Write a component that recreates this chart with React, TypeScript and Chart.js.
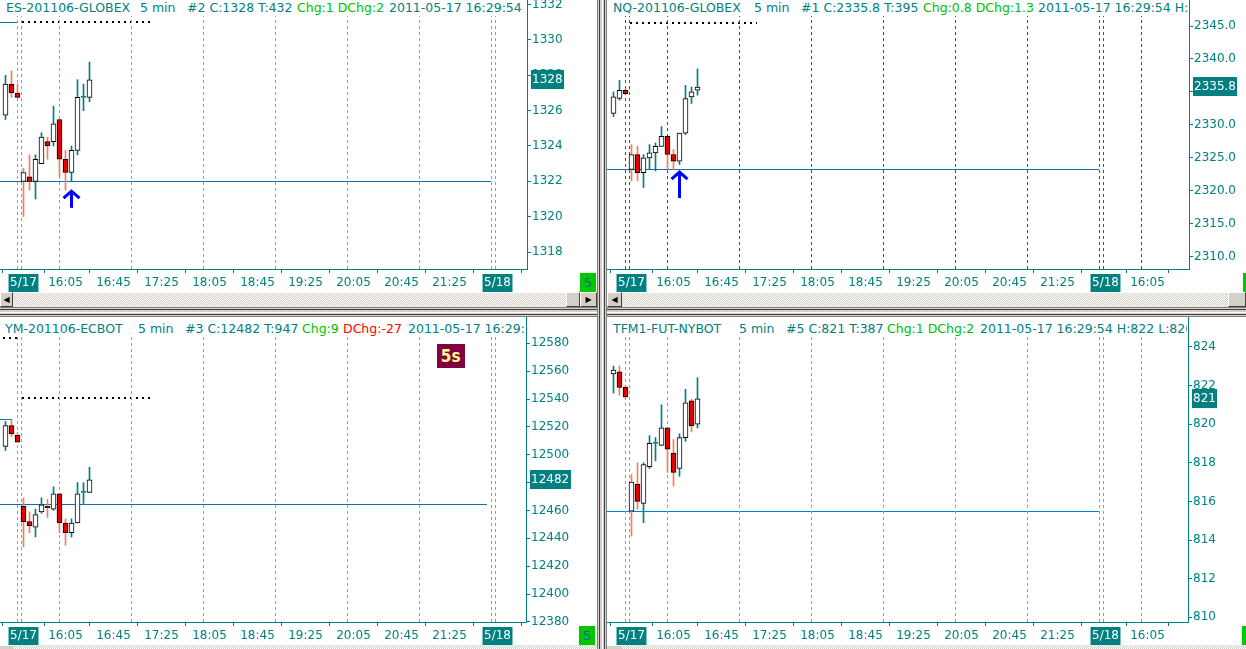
import React, { useEffect, useRef } from 'react';
import { Chart, registerables } from 'chart.js';
Chart.register(...registerables);

// ---------- shared axis data ----------
const barIndex = [-3, -2, -1, 0, 1, 2, 3, 4, 5, 6, 7, 8, 9, 10, 11];
const xTickValues = [0, 7, 15, 23, 31, 39, 47, 55, 63, 71, 79, 86];
const xTickLabels = ['5/17', '16:05', '16:45', '17:25', '18:05', '18:45', '19:25', '20:05', '20:45', '21:25', '5/18', '16:05'];
const dateTickLabels = ['5/17', '5/18'];
const sessionLines = [-1, -0.33, 6, 18, 30, 42, 54, 66, 78, 78.67, 85];

// ---------- ES ----------
const esOpen = [1325.75, 1327.5, 1327.0, 1322.0, 1322.25, 1322.0, 1323.0, 1324.25, 1324.25, 1325.5, 1323.25, 1322.5, 1323.75, 1326.75, 1326.75];
const esHigh = [1328.0, 1328.25, 1327.5, 1322.75, 1323.5, 1323.5, 1324.75, 1324.5, 1326.25, 1325.5, 1323.75, 1324.0, 1327.75, 1327.5, 1328.75];
const esLow = [1325.5, 1326.75, 1326.75, 1320.0, 1321.5, 1321.0, 1323.0, 1323.25, 1324.0, 1322.25, 1321.5, 1322.0, 1323.5, 1326.0, 1326.5];
const esClose = [1327.5, 1327.0, 1326.75, 1322.5, 1322.0, 1323.25, 1324.5, 1324.0, 1325.25, 1323.25, 1322.5, 1323.75, 1326.75, 1326.75, 1327.75];
const esTicks = [1318, 1320, 1322, 1324, 1326, 1328, 1330, 1332];
const esLevel = 1322;
const esPrevLevel = 1331;
const esArrow = [8, 1321.5, 1320.5];

// ---------- NQ ----------
const nqOpen = [2331.75, 2334.0, 2335.25, 2323.25, 2325.5, 2322.75, 2325.0, 2325.75, 2326.75, 2328.25, 2325.5, 2324.5, 2328.75, 2334.25, 2335.25];
const nqHigh = [2335.0, 2336.75, 2335.5, 2327.0, 2326.75, 2325.5, 2327.0, 2327.25, 2329.75, 2328.25, 2326.25, 2328.75, 2336.0, 2335.75, 2338.5];
const nqLow = [2331.25, 2333.75, 2334.75, 2321.5, 2321.5, 2320.5, 2323.25, 2323.0, 2326.75, 2323.25, 2323.25, 2324.0, 2328.5, 2333.25, 2334.5];
const nqClose = [2334.25, 2335.25, 2334.75, 2325.5, 2322.75, 2325.0, 2325.75, 2326.75, 2328.25, 2325.5, 2324.5, 2328.75, 2334.0, 2335.0, 2335.75];
const nqTicks = [2310, 2315, 2320, 2325, 2330, 2335, 2340, 2345];
const nqLevel = 2323.25;
const nqPrevLevel = 2345.5;
const nqArrow = [8, 2323.0, 2318.9];

// ---------- YM ----------
const ymOpen = [12506, 12521, 12514, 12463, 12452, 12448, 12459, 12463, 12461, 12472, 12451, 12444, 12451, 12473, 12473];
const ymHigh = [12524, 12525, 12516, 12469, 12459, 12461, 12469, 12468, 12477, 12472, 12454, 12454, 12480, 12480, 12491];
const ymLow = [12503, 12513, 12509, 12434, 12444, 12441, 12458, 12455, 12460, 12444, 12435, 12441, 12451, 12465, 12473];
const ymClose = [12521, 12515, 12509, 12452, 12449, 12457, 12464, 12462, 12472, 12451, 12444, 12451, 12472, 12473, 12482];
const ymTicks = [12380, 12400, 12420, 12440, 12460, 12480, 12500, 12520, 12540, 12560, 12580];
const ymLevel = 12464;
const ymPrevLevel = 12525;
const ymDotLevel = 12540.5;
const ymTopDotLevel = 12583.6;

// ---------- TF ----------
const tfOpen = [822.6, 822.7, 821.9, 815.5, 816.9, 815.9, 817.8, 819.0, 818.9, 819.8, 818.5, 817.7, 819.3, 821.2, 820.0];
const tfHigh = [823.0, 823.0, 822.0, 817.4, 818.0, 818.0, 819.4, 819.3, 821.0, 819.8, 819.2, 819.5, 821.8, 821.3, 822.4];
const tfLow = [821.6, 821.5, 821.3, 814.2, 815.6, 814.9, 817.7, 818.1, 818.9, 817.5, 816.8, 817.3, 819.1, 819.6, 819.8];
const tfClose = [822.8, 821.9, 821.4, 817.0, 816.0, 817.9, 819.0, 819.0, 819.8, 818.7, 817.5, 819.3, 821.1, 819.9, 821.3];
const tfTicks = [810, 812, 814, 816, 818, 820, 822, 824];
const tfLevel = 815.5;

// ---------- styles ----------
const TEAL = '#008080';
const GREEN = '#00c000';
const RED_TXT = '#ff0000';
const WICK_UP = '#007f7f';
const WICK_DOWN = '#f08058';
const BODY_DOWN = '#e80000';
const ORANGE_DASH = '#ff7f27';
const RED_DASH = '#ff0000';
const LEVEL_BLUE = '#1070b0';
const LEVEL_BLUE2 = '#0080d0';
const FONT = '"DejaVu Sans", Verdana, sans-serif';

type Line = { y: number; from: number; to: number; color: string; width: number; dash?: number[] };
type Seg = [string, number, string];
type Panel = {
  left: number; top: number; width: number; height: number;
  yAxisW: number; xAxisH: number;
  xMin: number; xMax: number; yMin: number; yMax: number;
  yTicks: number[]; dec: number;
  open: number[]; high: number[]; low: number[]; close: number[];
  lines: Line[]; dashColor: string;
  arrow?: number[];
  lastLabel: string;
  title: Seg[]; titleH: number; textTop: number;
};

const dotted = (y: number, from: number, to: number): Line => ({ y, from, to, color: '#000000', width: 2, dash: [2, 4] });

const PANELS: Panel[] = [
  {
    left: 0, top: 0, width: 597, height: 292, yAxisW: 70, xAxisH: 23,
    xMin: -3.9167, xMax: 83.9167, yMin: 1317.04, yMax: 1332.26,
    yTicks: esTicks, dec: 0,
    open: esOpen, high: esHigh, low: esLow, close: esClose,
    lines: [
      { y: esLevel, from: -10, to: 78, color: LEVEL_BLUE, width: 1 },
      { y: esPrevLevel, from: -10, to: -1, color: LEVEL_BLUE, width: 1 },
      dotted(esPrevLevel, -0.33, 21),
    ],
    dashColor: ORANGE_DASH, arrow: esArrow, lastLabel: '1328',
    title: [['ES-201106-GLOBEX', 6, TEAL], ['5 min', 140, TEAL], ['#2 C:1328 T:432', 187, TEAL], ['Chg:1 DChg:2', 297, GREEN], ['2011-05-17 16:29:54', 389, TEAL]],
    titleH: 16, textTop: 0,
  },
  {
    left: 607, top: 0, width: 639, height: 292, yAxisW: 57, xAxisH: 23,
    xMin: -4.0833, xMax: 92.9167, yMin: 2308.134, yMax: 2348.945,
    yTicks: nqTicks, dec: 1,
    open: nqOpen, high: nqHigh, low: nqLow, close: nqClose,
    lines: [
      { y: nqLevel, from: -10, to: 78, color: LEVEL_BLUE, width: 1 },
      dotted(nqPrevLevel, -0.25, 21),
    ],
    dashColor: RED_DASH, arrow: nqArrow, lastLabel: '2335.8',
    title: [['NQ-201106-GLOBEX', 6, TEAL], ['5 min', 147, TEAL], ['#1 C:2335.8 T:395', 194, TEAL], ['Chg:0.8 DChg:1.3', 316, GREEN], ['2011-05-17 16:29:54 H:2338.5', 431, TEAL]],
    titleH: 16, textTop: 0,
  },
  {
    left: 0, top: 317, width: 597, height: 332, yAxisW: 71, xAxisH: 27,
    xMin: -3.9167, xMax: 83.75, yMin: 12379.9, yMax: 12598.9,
    yTicks: ymTicks, dec: 0,
    open: ymOpen, high: ymHigh, low: ymLow, close: ymClose,
    lines: [
      { y: ymLevel, from: -10, to: 77.2, color: LEVEL_BLUE, width: 1 },
      { y: ymPrevLevel, from: -10, to: -1.9, color: LEVEL_BLUE, width: 1 },
      dotted(ymDotLevel, -0.33, 21),
      dotted(ymTopDotLevel, -3.36, -1.03),
    ],
    dashColor: ORANGE_DASH, lastLabel: '12482',
    title: [['YM-201106-ECBOT', 5, TEAL], ['5 min', 138, TEAL], ['#3 C:12482 T:947', 185, TEAL], ['Chg:9', 302, GREEN], ['DChg:-27', 343, RED_TXT], ['2011-05-17 16:29:54', 408, TEAL]],
    titleH: 20, textTop: 4,
  },
  {
    left: 607, top: 317, width: 639, height: 332, yAxisW: 58, xAxisH: 27,
    xMin: -4.0833, xMax: 92.75, yMin: 809.76, yMax: 825.54,
    yTicks: tfTicks, dec: 0,
    open: tfOpen, high: tfHigh, low: tfLow, close: tfClose,
    lines: [
      { y: tfLevel, from: -10, to: 78, color: LEVEL_BLUE2, width: 1 },
    ],
    dashColor: ORANGE_DASH, lastLabel: '821',
    title: [['TFM1-FUT-NYBOT', 6, TEAL], ['5 min', 132, TEAL], ['#5 C:821 T:387', 179, TEAL], ['Chg:1 DChg:2', 280, GREEN], ['2011-05-17 16:29:54 H:822 L:820', 373, TEAL]],
    titleH: 20, textTop: 4,
  },
];

function makeChart(canvas: HTMLCanvasElement, p: Panel) {
  const wick = p.close.map((c, i) => (i === 0 || c >= p.close[i - 1] ? WICK_UP : WICK_DOWN));
  const bodyFill = p.open.map((o, i) => (p.close[i] > o ? '#ffffff' : p.close[i] < o ? BODY_DOWN : wick[i]));
  const bodyBorder = p.open.map((o, i) => (p.close[i] === o ? wick[i] : '#000000'));
  const lastClose = p.close[p.close.length - 1];
  const xTicksInRange = xTickValues.filter((v) => v >= p.xMin && v <= p.xMax);
  const labelFor = (v: number) => xTickLabels[xTickValues.indexOf(v)] ?? '';
  const isDate = (ctx: any) => dateTickLabels.includes(labelFor(ctx.tick?.value));

  // level lines (horizontal), drawn through the scales, snapped to device pixels
  const levelPlugin = {
    id: 'levelLines',
    beforeDatasetsDraw(chart: any) {
      const { ctx, chartArea, scales } = chart;
      ctx.save();
      ctx.beginPath();
      ctx.rect(chartArea.left, chartArea.top, chartArea.right - chartArea.left, chartArea.bottom - chartArea.top);
      ctx.clip();
      p.lines.forEach((l) => {
        const py = scales.y.getPixelForValue(l.y);
        const y = l.width % 2 === 1 ? Math.floor(py) + 0.5 : Math.round(py);
        const x0 = Math.max(chartArea.left, scales.x.getPixelForValue(l.from));
        const x1 = Math.min(chartArea.right, scales.x.getPixelForValue(l.to));
        ctx.strokeStyle = l.color;
        ctx.lineWidth = l.width;
        ctx.lineCap = 'butt';
        ctx.setLineDash(l.dash ?? []);
        ctx.beginPath();
        ctx.moveTo(Math.round(x0), y);
        ctx.lineTo(Math.round(x1), y);
        ctx.stroke();
      });
      ctx.restore();
    },
  };

  const arrowPlugin = {
    id: 'arrowMark',
    afterDatasetsDraw(chart: any) {
      if (!p.arrow) return;
      const { ctx, scales } = chart;
      const x = Math.floor(scales.x.getPixelForValue(p.arrow[0])) + 0.5;
      const tip = scales.y.getPixelForValue(p.arrow[1]);
      const tail = scales.y.getPixelForValue(p.arrow[2]);
      ctx.save();
      ctx.strokeStyle = '#0000ff';
      ctx.lineWidth = 3;
      ctx.lineJoin = 'miter';
      ctx.beginPath();
      ctx.moveTo(x, tail);
      ctx.lineTo(x, tip + 1);
      ctx.stroke();
      ctx.beginPath();
      ctx.moveTo(x - 8, tip + 8);
      ctx.lineTo(x, tip + 1);
      ctx.lineTo(x + 8, tip + 8);
      ctx.stroke();
      ctx.restore();
    },
  };

  const lastPlugin = {
    id: 'lastPrice',
    afterDraw(chart: any) {
      const { ctx, chartArea, scales } = chart;
      const y = scales.y.getPixelForValue(lastClose);
      ctx.save();
      ctx.font = `12px ${FONT}`;
      const w = ctx.measureText(p.lastLabel).width + 2;
      const left = chartArea.right + 4;
      const top = Math.round(y - 9.5);
      ctx.fillStyle = TEAL;
      ctx.fillRect(left, top, Math.ceil(w), 19);
      ctx.fillStyle = '#ffffff';
      ctx.textBaseline = 'middle';
      ctx.textAlign = 'left';
      ctx.fillText(p.lastLabel, left + 1, top + 10);
      ctx.restore();
    },
  };

  const datasets: any[] = [
    {
      type: 'bar',
      label: 'body',
      data: barIndex.map((x, i) => ({ x, y: [p.open[i], p.close[i]] })),
      backgroundColor: bodyFill,
      borderColor: bodyBorder,
      borderWidth: 1,
      borderSkipped: false,
      barThickness: 5,
      minBarLength: 1,
      grouped: false,
      order: 0,
    },
    {
      type: 'bar',
      label: 'wick',
      data: barIndex.map((x, i) => ({ x, y: [p.low[i], p.high[i]] })),
      backgroundColor: wick,
      borderWidth: 0,
      barThickness: 1,
      grouped: false,
      order: 1,
    },
    ...sessionLines.map((v, k) => ({
      type: 'line',
      label: 'session' + k,
      data: [{ x: v, y: p.yMin }, { x: v, y: p.yMax }],
      borderColor: p.dashColor,
      borderWidth: 1,
      borderDash: [3, 3],
      borderCapStyle: 'butt',
      pointRadius: 0,
      tension: 0,
      order: 3,
    })),
  ];

  return new Chart(canvas, {
    type: 'bar',
    data: { datasets },
    plugins: [levelPlugin, arrowPlugin, lastPlugin],
    options: {
      responsive: false,
      maintainAspectRatio: false,
      devicePixelRatio: 1,
      animation: false,
      events: [],
      layout: { padding: 0 },
      plugins: { legend: { display: false }, tooltip: { enabled: false }, title: { display: false } },
      scales: {
        x: {
          type: 'linear',
          min: p.xMin,
          max: p.xMax,
          offset: false,
          afterBuildTicks: (s: any) => {
            s.ticks = xTicksInRange.map((v) => ({ value: v }));
          },
          afterFit: (s: any) => {
            s.height = p.xAxisH;
            s.paddingLeft = 0;
            s.paddingRight = 0;
          },
          ticks: {
            autoSkip: false,
            maxRotation: 0,
            minRotation: 0,
            padding: 3,
            font: { family: FONT, size: 12 },
            color: (ctx: any) => (isDate(ctx) ? '#ffffff' : TEAL),
            showLabelBackdrop: (ctx: any) => isDate(ctx),
            backdropColor: TEAL,
            backdropPadding: { top: 2, bottom: 2, left: 1.5, right: 1.5 },
            callback: (v: any) => labelFor(Number(v)),
          },
          grid: { drawOnChartArea: false, drawTicks: true, tickLength: 4, color: TEAL },
          border: { display: true, color: TEAL, width: 1 },
        },
        y: {
          type: 'linear',
          position: 'right',
          min: p.yMin,
          max: p.yMax,
          afterBuildTicks: (s: any) => {
            s.ticks = p.yTicks.map((v) => ({ value: v }));
          },
          afterFit: (s: any) => {
            s.width = p.yAxisW;
            s.paddingTop = 0;
            s.paddingBottom = 0;
          },
          ticks: {
            autoSkip: false,
            padding: 1,
            color: TEAL,
            font: { family: FONT, size: 12 },
            callback: (v: any) => Number(v).toFixed(p.dec),
          },
          grid: { drawOnChartArea: false, drawTicks: true, tickLength: 4, color: TEAL },
          border: { display: true, color: TEAL, width: 1 },
        },
      },
    } as any,
  });
}

const hatch = 'repeating-conic-gradient(#d4d0c8 0% 25%, #ffffff 0% 50%) 0 0 / 2px 2px';

function Btn({ left, top, w, h, arrow }: { left: number; top: number; w: number; h: number; arrow?: string }) {
  return (
    <div
      style={{
        position: 'absolute', left, top, width: w, height: h, boxSizing: 'border-box',
        background: '#d4d0c8', borderTop: '1px solid #ffffff', borderLeft: '1px solid #ffffff',
        borderRight: '1px solid #404040', borderBottom: '1px solid #404040',
        fontSize: 8, lineHeight: `${h - 2}px`, textAlign: 'center', color: '#000', fontFamily: FONT,
      }}
    >
      {arrow ?? ''}
    </div>
  );
}

function GreenBox({ left, top }: { left: number; top: number }) {
  return (
    <div
      style={{
        position: 'absolute', left, top, width: 16, height: 19, background: '#00c800',
        color: '#1a60a8', fontFamily: FONT, fontSize: 13, lineHeight: '19px', textAlign: 'center',
      }}
    >
      5
    </div>
  );
}

export default function App() {
  const canvases = useRef<(HTMLCanvasElement | null)[]>([]);
  useEffect(() => {
    const charts = PANELS.map((p, i) => makeChart(canvases.current[i] as HTMLCanvasElement, p));
    return () => charts.forEach((c) => c.destroy());
  }, []);

  return (
    <div style={{ position: 'fixed', left: 0, top: 0, width: 1246, height: 649, overflow: 'hidden', background: '#ffffff' }}>
      {PANELS.map((p, i) => (
        <canvas
          key={'c' + i}
          ref={(el) => { canvases.current[i] = el; }}
          width={p.width}
          height={p.height}
          style={{ position: 'absolute', left: p.left, top: p.top, width: p.width, height: p.height }}
        />
      ))}
      {PANELS.map((p, i) => (
        <div
          key={'t' + i}
          style={{
            position: 'absolute', left: p.left, top: p.top, width: p.width - p.yAxisW - 1,
            height: p.titleH, background: '#ffffff', overflow: 'hidden',
          }}
        >
          {p.title.map(([txt, x, col], k) => (
            <span
              key={k}
              style={{
                position: 'absolute', left: x, top: p.textTop, whiteSpace: 'pre', color: col,
                fontFamily: FONT, fontSize: 12.5, lineHeight: '16px',
              }}
            >
              {txt}
            </span>
          ))}
        </div>
      ))}

      {/* 5s badge */}
      <div
        style={{
          position: 'absolute', left: 437, top: 344, width: 28, height: 24, background: '#800040',
          color: '#ffff80', fontFamily: FONT, fontWeight: 'bold', fontSize: 18, lineHeight: '24px', textAlign: 'center',
        }}
      >
        <span style={{ display: 'inline-block', transform: 'scaleX(0.85)' }}>5s</span>
      </div>

      {/* green boxes */}
      <GreenBox left={580} top={273} />
      <GreenBox left={1243} top={273} />
      <GreenBox left={579} top={626} />
      <GreenBox left={1242} top={626} />

      {/* top scrollbars */}
      <div style={{ position: 'absolute', left: 13, top: 293, width: 553, height: 14, background: hatch }} />
      <Btn left={0} top={292} w={13} h={15} arrow="◀" />
      <Btn left={566} top={292} w={14} h={15} />
      <Btn left={580} top={292} w={17} h={15} arrow="▶" />
      <div style={{ position: 'absolute', left: 622, top: 293, width: 606, height: 14, background: hatch }} />
      <Btn left={607} top={292} w={15} h={15} arrow="◀" />
      <Btn left={1228} top={292} w={18} h={15} />

      {/* bottom scrollbars */}
      <div style={{ position: 'absolute', left: 13, top: 645, width: 584, height: 4, background: hatch }} />
      <div style={{ position: 'absolute', left: 622, top: 645, width: 624, height: 4, background: hatch }} />
      <div style={{ position: 'absolute', left: 0, top: 645, width: 13, height: 4, background: '#d4d0c8', borderTop: '1px solid #fff', boxSizing: 'border-box' }} />
      <div style={{ position: 'absolute', left: 607, top: 645, width: 15, height: 4, background: '#d4d0c8', borderTop: '1px solid #fff', boxSizing: 'border-box' }} />

      {/* separators */}
      <div style={{ position: 'absolute', left: 0, top: 307, width: 1246, height: 10, background: '#d4d0c8', borderTop: '1px solid #808080', borderBottom: '1px solid #808080', boxSizing: 'border-box' }}>
        <div style={{ position: 'absolute', left: 0, top: 1, width: '100%', height: 1, background: '#404040' }} />
        <div style={{ position: 'absolute', left: 0, top: 4, width: '100%', height: 1, background: '#ffffff' }} />
        <div style={{ position: 'absolute', left: 0, top: 6, width: '100%', height: 1, background: '#404040' }} />
      </div>
      <div style={{ position: 'absolute', left: 597, top: 0, width: 10, height: 649, background: '#d4d0c8', borderLeft: '1px solid #808080', borderRight: '1px solid #808080', boxSizing: 'border-box' }}>
        <div style={{ position: 'absolute', left: 1, top: 0, width: 1, height: '100%', background: '#404040' }} />
        <div style={{ position: 'absolute', left: 4, top: 0, width: 1, height: '100%', background: '#ffffff' }} />
        <div style={{ position: 'absolute', left: 6, top: 0, width: 1, height: '100%', background: '#404040' }} />
      </div>
    </div>
  );
}
